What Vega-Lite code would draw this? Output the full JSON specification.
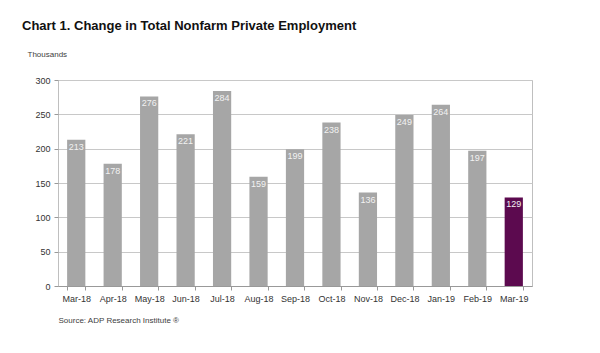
{
  "$schema": "https://vega.github.io/schema/vega-lite/v6.json",
  "width": 474,
  "height": 206,
  "autosize": {"type": "none"},
  "padding": {"left": 58, "top": 80, "right": 68, "bottom": 67},
  "background": "white",
  "config": {
    "font": "Liberation Sans",
    "view": {"stroke": "#bfbfbf", "strokeWidth": 1}
  },
  "title": {
    "text": "Chart 1. Change in Total Nonfarm Private Employment",
    "anchor": "start",
    "frame": "group",
    "dx": -36,
    "offset": 7,
    "baseline": "alphabetic",
    "fontSize": 13,
    "fontWeight": "bold",
    "color": "#111111",
    "font": "Liberation Sans"
  },
  "data": {
    "values": [
      {"month": "Mar-18", "value": 213},
      {"month": "Apr-18", "value": 178},
      {"month": "May-18", "value": 276},
      {"month": "Jun-18", "value": 221},
      {"month": "Jul-18", "value": 284},
      {"month": "Aug-18", "value": 159},
      {"month": "Sep-18", "value": 199},
      {"month": "Oct-18", "value": 238},
      {"month": "Nov-18", "value": 136},
      {"month": "Dec-18", "value": 249},
      {"month": "Jan-19", "value": 264},
      {"month": "Feb-19", "value": 197},
      {"month": "Mar-19", "value": 129}
    ]
  },
  "encoding": {
    "x": {
      "field": "month",
      "type": "nominal",
      "sort": null,
      "scale": {"paddingInner": 0.5, "paddingOuter": 0.25},
      "axis": {
        "title": "Source: ADP Research Institute ®",
        "titleFontSize": 8,
        "titleFontWeight": "normal",
        "titleColor": "#404040",
        "titleAlign": "left",
        "titleAnchor": "start",
        "titleX": 0,
        "titleY": 30,
        "labelAngle": 0,
        "labelFontSize": 9,
        "labelColor": "#333333",
        "labelPadding": 4,
        "tickBand": "extent",
        "tickSize": 4,
        "tickColor": "#999999",
        "domainColor": "#999999"
      }
    },
    "y": {
      "field": "value",
      "type": "quantitative",
      "scale": {"domain": [0, 300]},
      "axis": {
        "values": [0, 50, 100, 150, 200, 250, 300],
        "title": "Thousands",
        "titleAngle": 0,
        "titleFontSize": 8,
        "titleFontWeight": "normal",
        "titleColor": "#404040",
        "titleAlign": "left",
        "titleBaseline": "alphabetic",
        "titleX": -31,
        "titleY": -24,
        "labelFontSize": 9,
        "labelColor": "#333333",
        "labelPadding": 4,
        "tickSize": 4,
        "tickColor": "#999999",
        "domain": false,
        "gridColor": "#c8c8c8",
        "gridWidth": 1
      }
    }
  },
  "layer": [
    {
      "mark": {"type": "bar"},
      "encoding": {
        "color": {
          "condition": {"test": "datum.month === 'Mar-19'", "value": "#5c0a4f"},
          "value": "#a6a6a6"
        }
      }
    },
    {
      "mark": {"type": "text", "baseline": "top", "dy": 3, "fontSize": 9, "color": "#f2f2f2"},
      "encoding": {"text": {"field": "value", "type": "quantitative"}}
    }
  ]
}
